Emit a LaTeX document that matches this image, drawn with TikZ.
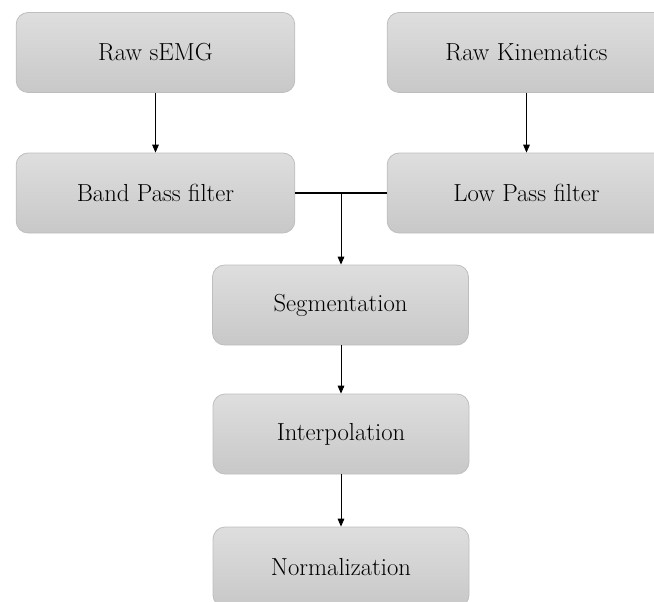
\documentclass[tikz,border=0pt]{standalone}
\usetikzlibrary{arrows.meta}
\definecolor{boxtop}{RGB}{222,222,222}
\definecolor{boxbot}{RGB}{200,200,200}
\definecolor{boxline}{RGB}{190,190,190}
\tikzset{
  stepbox/.style={rectangle, rounded corners=9pt, draw=boxline, line width=0.6pt,
    top color=boxtop, bottom color=boxbot, minimum width=209pt, minimum height=60pt,
    inner sep=0pt, font=\fontsize{18.5}{21}\selectfont},
  arr/.style={-{Triangle[length=6pt,width=5pt]}, line width=0.7pt},
  joinline/.style={line width=1.3pt}
}
\begin{document}
\begin{tikzpicture}[x=0.75pt,y=-0.75pt]
\useasboundingbox (0,0) rectangle (654,601);
\clip (0,0) rectangle (654,601);
\node[stepbox] (semg) at (155.5,52.5) {Raw sEMG};
\node[stepbox] (band) at (155.5,193) {Band Pass filter};
\node[stepbox] (kin) at (526.5,52.5) {Raw Kinematics};
\node[stepbox] (low) at (526.5,193) {Low Pass filter};
\node[stepbox, minimum width=192pt] (seg) at (340.5,305) {Segmentation};
\node[stepbox, minimum width=192pt] (interp) at (341,434) {Interpolation};
\node[stepbox, minimum width=192pt] (norm) at (341,567) {Normalization};
\coordinate (j) at (341,193);
\draw[arr] (semg.south) -- (band.north);
\draw[arr] (kin.south) -- (low.north);
\draw[joinline] (band.east) -- (low.west);
\draw[arr] (j) -- (j |- seg.north);
\draw[arr] (seg.south -| j) -- (j |- interp.north);
\draw[arr] (interp.south -| j) -- (j |- norm.north);
\end{tikzpicture}
\end{document}
